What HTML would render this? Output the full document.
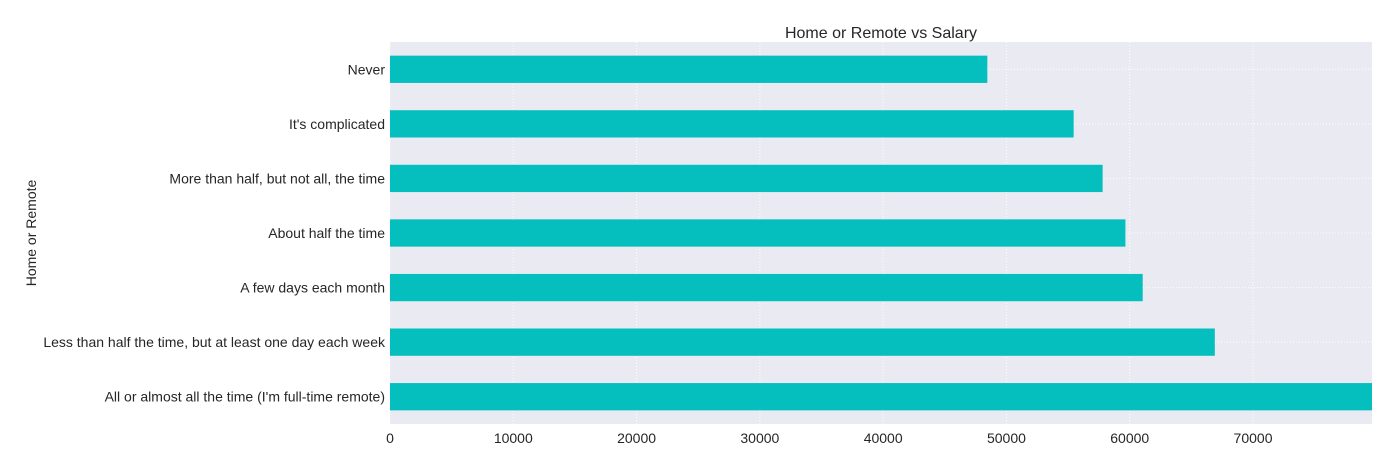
<!DOCTYPE html>
<html><head><meta charset="utf-8"><style>
body{margin:0;background:#fff;width:1400px;height:468px;overflow:hidden}
svg{font-family:"Liberation Sans",Arial,sans-serif}
</style></head><body>
<svg id="chart" width="1400" height="468"></svg>
<script>
const categories=["Never","It's complicated","More than half, but not all, the time","About half the time","A few days each month","Less than half the time, but at least one day each week","All or almost all the time (I'm full-time remote)"];
const salaries=[48450,55450,57800,59650,61050,66900,79650];
const xTicks=[0,10000,20000,30000,40000,50000,60000,70000];
const xTickLabels=["0","10000","20000","30000","40000","50000","60000","70000"];
const NS="http://www.w3.org/2000/svg";
const svg=document.getElementById('chart');
const L=390,R=1372,T=42,B=424;
const xMax=Math.max(...salaries);
const x=v=>L+(v/xMax)*(R-L);
const step=(B-T)/categories.length;
const yc=i=>T+step*(i+0.5);
function mk(tag,attrs){const e=document.createElementNS(NS,tag);for(const k in attrs)e.setAttribute(k,attrs[k]);svg.appendChild(e);return e;}
const bg=mk('rect',{x:L,y:T,width:R-L,height:B-T,fill:'#eaeaf2'});


xTicks.forEach((t,i)=>{
 const g=mk('line',{x1:x(t),x2:x(t),y1:T,y2:B,stroke:'#fff','stroke-dasharray':'1,2','stroke-width':1});
 
 
 const tl=mk('text',{x:x(t),y:443,'text-anchor':'middle','font-size':14,fill:'#262626'});
 tl.textContent=xTickLabels[i];
 
 
});
categories.forEach((c,i)=>{
 const g=mk('line',{x1:L,x2:R,y1:yc(i),y2:yc(i),stroke:'#fff','stroke-dasharray':'1,2','stroke-width':1});
 
 
 const b=mk('rect',{x:L,y:yc(i)-step*0.25,width:x(salaries[i])-L,height:step*0.5,fill:'#05bebe'});
 
 
 const tl=mk('text',{x:385,y:yc(i)+5,'text-anchor':'end','font-size':14,fill:'#262626'});
 tl.textContent=c;
 
 
});
const title=mk('text',{x:(L+R)/2,y:38,'text-anchor':'middle','font-size':16,fill:'#262626'});
title.textContent='Home or Remote vs Salary';


const yl=mk('text',{x:36,y:233,'text-anchor':'middle','font-size':14,fill:'#262626',transform:'rotate(-90 36 233)'});
yl.textContent='Home or Remote';


</script>
</body></html>
